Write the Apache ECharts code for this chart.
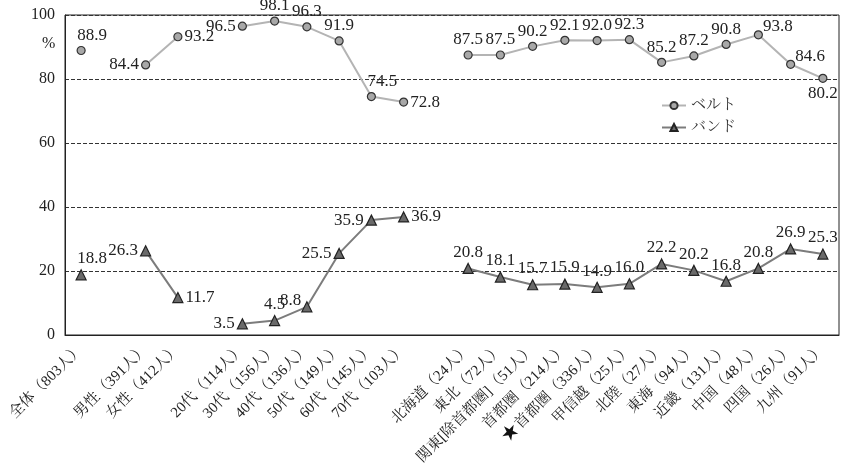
<!DOCTYPE html>
<html><head><meta charset="utf-8">
<script src="https://cdn.jsdelivr.net/npm/echarts@6/dist/echarts.min.js"></script>
<style>html,body{margin:0;padding:0;background:#fff}#c{width:846px;height:464px}</style>
</head><body><div id="c"></div>
<script>
var categories = ['全体（803人）','','男性（391人）','女性（412人）','','20代（114人）','30代（156人）','40代（136人）','50代（149人）','60代（145人）','70代（103人）','','北海道（24人）','東北（72人）','関東[除首都圏]（51人）','首都圏（214人）','★首都圏（336人）','甲信越（25人）','北陸（27人）','東海（94人）','近畿（131人）','中国（48人）','四国（26人）','九州（91人）'];
var beltValues = [88.9,null,84.4,93.2,null,96.5,98.1,96.3,91.9,74.5,72.8,null,87.5,87.5,90.2,92.1,92.0,92.3,85.2,87.2,90.8,93.8,84.6,80.2];
var bandValues = [18.8,null,26.3,11.7,null,3.5,4.5,8.8,25.5,35.9,36.9,null,20.8,18.1,15.7,15.9,14.9,16.0,22.2,20.2,16.8,20.8,26.9,25.3];
var yTicks = [0,20,40,60,80,100];
var beltLabelPos = ['tr',null,'left','right',null,'left','top','top','top','tr','right',null,'top','top','top','top','top','top','top','top','top','ru','ru','bottom'];
var bandLabelPos = ['tr',null,'left','right',null,'left','top','lu','left','left','right',null,'top','top','top','top','top','top','top','top','top','top','top','top'];

var FONT = "'Liberation Serif','Noto Serif CJK JP','Noto Sans CJK JP',serif";
function mkData(vals, pos){
  return vals.map(function(v,i){
    if(v===null) return '-';
    var p = pos[i], lab = {};
    if(p==='tr'){ lab = {position:'top', offset:[11,0]}; }
    else if(p==='ru'){ lab = {position:'right', offset:[-2,-8]}; }
    else if(p==='lu'){ lab = {position:'left', offset:[2,-6]}; }
    else lab = {position:p};
    return {value:v, label:lab};
  });
}
function fmt(p){ return Number(p.value).toFixed(1); }
var chart = echarts.init(document.getElementById('c'), null, {renderer:'canvas'});
chart.setOption({
  animation:false,
  backgroundColor:'#fff',
  textStyle:{fontFamily:FONT},
  grid:{left:65,right:7,top:15,bottom:129,outerBoundsMode:'none',containLabel:false,show:true,borderColor:'#222',borderWidth:1,backgroundColor:'transparent'},
  legend:{
    orient:'vertical', left:656, top:93, itemWidth:24, itemHeight:9, itemGap:7,
    textStyle:{fontFamily:FONT,fontSize:15,color:'#333'},
    data:['ベルト','バンド']
  },
  graphic:[{type:'text',left:42,top:36,style:{text:'%',font:'16px '+FONT,fill:'#222'}}],
  xAxis:{
    type:'category', data:categories, boundaryGap:true,
    axisLine:{lineStyle:{color:'#222'}}, axisTick:{show:false},
    axisLabel:{interval:0, rotate:45, margin:12, fontSize:15, color:'#222', fontFamily:FONT,
      formatter:function(v){ if(v.charAt(0)==='★') return '{s|★}'+v.slice(1); return v; },
      rich:{s:{fontSize:21,color:'#111',fontFamily:'DejaVu Sans'}}
    }
  },
  yAxis:{
    type:'value', min:yTicks[0], max:yTicks[yTicks.length-1], interval:20,
    axisLine:{show:true,lineStyle:{color:'#222'}}, axisTick:{show:false},
    axisLabel:{fontSize:16,color:'#222',fontFamily:FONT,margin:10},
    splitLine:{show:true,lineStyle:{color:'#333',type:[4,2],width:1}}
  },
  series:[
    {name:'ベルト', type:'line', data:mkData(beltValues,beltLabelPos), connectNulls:false,
     symbol:'circle', symbolSize:8,
     lineStyle:{color:'#b4b4b4',width:2},
     itemStyle:{color:'#a8a8a8',borderColor:'#333',borderWidth:1.2},
     label:{show:true,fontSize:17,color:'#222',fontFamily:FONT,distance:2,formatter:fmt}},
    {name:'バンド', type:'line', data:mkData(bandValues,bandLabelPos), connectNulls:false,
     symbol:'triangle', symbolSize:10,
     lineStyle:{color:'#7c7c7c',width:2},
     itemStyle:{color:'#6a6a6a',borderColor:'#222',borderWidth:1.2},
     label:{show:true,fontSize:17,color:'#222',fontFamily:FONT,distance:2,formatter:fmt}}
  ]
});
</script></body></html>
